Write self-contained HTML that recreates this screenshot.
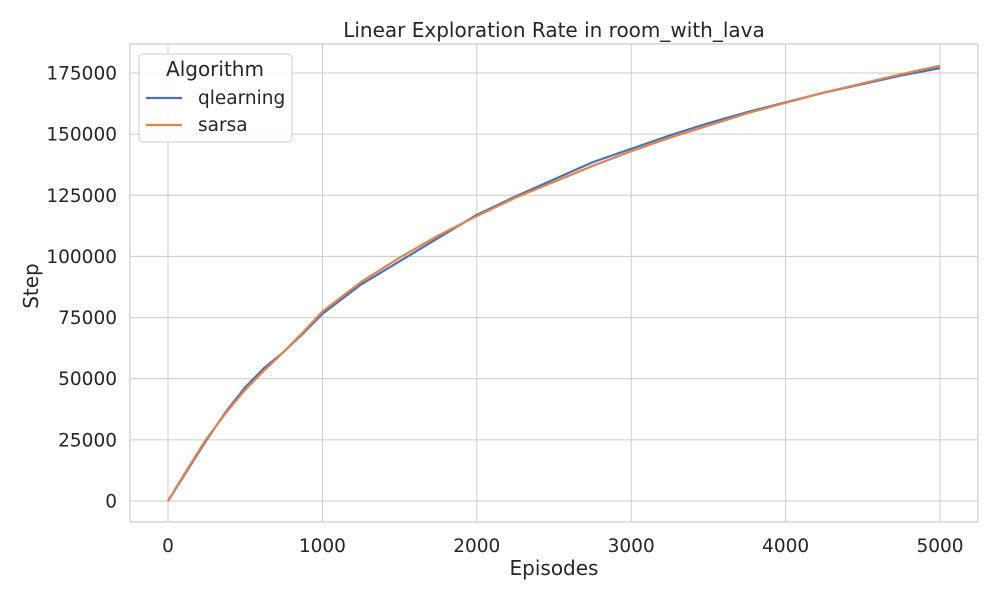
<!DOCTYPE html>
<html><head><meta charset="utf-8"><style>
body{margin:0;background:#fff;font-family:"Liberation Sans","DejaVu Sans",sans-serif;}
svg text{fill:#262626;font-family:"DejaVu Sans","Liberation Sans",sans-serif;}
</style></head><body>
<svg id="chart" width="1000" height="600"></svg>
<script>
const episodes=[0,125,250,375,500,625,750,875,1000,1250,1500,1750,2000,2250,2500,2750,3000,3250,3500,3750,4000,4250,4500,4750,5000];
const qlearning=[0,12500,25000,36500,46500,54500,61000,68500,76500,88500,98000,107500,117000,124500,131500,138500,144000,149500,154500,159000,163000,167000,170500,174000,177000];
const sarsa=[0,13000,25500,36000,45500,53500,61000,69000,77500,89500,99500,108500,116500,124000,130500,137000,143000,148500,153500,158500,162800,167000,170800,174500,178000];
const xTicks=[0,1000,2000,3000,4000,5000];
const yTicks=[0,25000,50000,75000,100000,125000,150000,175000];
const NS="http://www.w3.org/2000/svg";
const svg=document.getElementById('chart');
const L=130,R=978,T=44,B=522;
const xs=v=>168+v*(940-168)/5000;
const ys=v=>501-v*(501-73)/175000;
function mk(tag,attrs,parent){const e=document.createElementNS(NS,tag);for(const k in attrs)e.setAttribute(k,attrs[k]);(parent||svg).appendChild(e);return e;}
const grid=mk('g',{});


xTicks.forEach(t=>{mk('line',{x1:xs(t),x2:xs(t),y1:T,y2:B,stroke:'#cccccc','stroke-width':1},grid);
 const tx=mk('text',{x:xs(t),y:552,'text-anchor':'middle','font-size':18.5});tx.textContent=t;
 
 });
yTicks.forEach(t=>{mk('line',{x1:L,x2:R,y1:ys(t),y2:ys(t),stroke:'#cccccc','stroke-width':1},grid);
 const tx=mk('text',{x:117,y:ys(t)+6.5,'text-anchor':'end','font-size':18.5});tx.textContent=t;
 
 });
const frame=mk('rect',{x:L,y:T,width:R-L,height:B-T,fill:'none',stroke:'#cccccc','stroke-width':1.2});


function line(data,color,name){const p=mk('polyline',{points:episodes.map((e,i)=>xs(e)+','+ys(data[i])).join(' '),fill:'none',stroke:color,'stroke-width':2.2,'stroke-linejoin':'round'});
 
 }
line(qlearning,'#4c72b0','line-qlearning');
line(sarsa,'#dd8452','line-sarsa');
const title=mk('text',{x:554,y:37,'text-anchor':'middle','font-size':20});title.textContent='Linear Exploration Rate in room_with_lava';


const xl=mk('text',{x:554,y:575,'text-anchor':'middle','font-size':20});xl.textContent='Episodes';


const yl=mk('text',{x:38,y:286,'text-anchor':'middle','font-size':20,transform:'rotate(-90 38 286)'});yl.textContent='Step';


const lg=mk('g',{});


mk('rect',{x:139,y:54,width:153,height:88,rx:4,fill:'#fff','fill-opacity':0.85,stroke:'#cccccc'},lg);
const lt=mk('text',{x:215,y:76,'text-anchor':'middle','font-size':20},lg);lt.textContent='Algorithm';
[['qlearning','#4c72b0',98],['sarsa','#dd8452',125]].forEach(([n,c,y])=>{
 mk('line',{x1:146,x2:182,y1:y,y2:y,stroke:c,'stroke-width':2.2},lg);
 const t=mk('text',{x:198,y:y+6,'font-size':18.5},lg);t.textContent=n;
 
 });
</script>
</body></html>
